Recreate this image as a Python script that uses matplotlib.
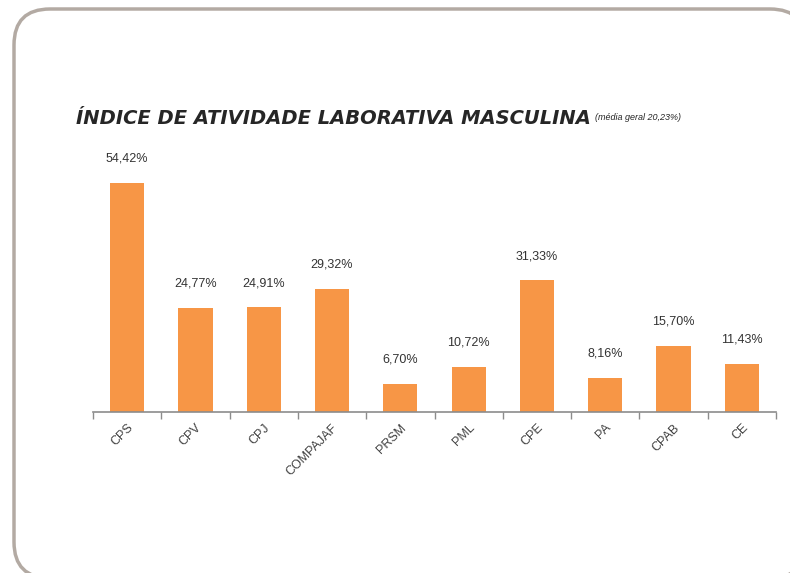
import matplotlib
matplotlib.use("Agg")
import matplotlib.pyplot as plt
from matplotlib.patches import FancyBboxPatch
from matplotlib.transforms import IdentityTransform

# dados
categorias = ["CPS", "CPV", "CPJ", "COMPAJAF", "PRSM", "PML", "CPE", "PA", "CPAB", "CE"]
valores = [54.42, 24.77, 24.91, 29.32, 6.70, 10.72, 31.33, 8.16, 15.70, 11.43]
rotulos = ["54,42%", "24,77%", "24,91%", "29,32%", "6,70%", "10,72%", "31,33%", "8,16%", "15,70%", "11,43%"]
titulo = "ÍNDICE DE ATIVIDADE LABORATIVA MASCULINA"
subtitulo = "(média geral 20,23%)"

plt.rcParams["font.family"] = ["Liberation Sans", "DejaVu Sans"]

fig = plt.figure(figsize=(7.9, 5.73), dpi=100)

# moldura arredondada (em pixels); face branca para evitar o recorte das curvas
moldura = FancyBboxPatch((14, -5), 792, 569,
                         boxstyle="round,pad=0,rounding_size=36",
                         transform=IdentityTransform(), facecolor="white",
                         edgecolor="#B3AAA3", lw=2.5, zorder=-1)
fig.patches.append(moldura)

ax = fig.add_axes([93 / 790, 1 - 412 / 573, 683 / 790, 252.6 / 573])
ax.patch.set_visible(False)

x = range(len(categorias))
ax.bar(x, valores, width=0.5, color="#F79646", zorder=2)

for i, v in enumerate(valores):
    ax.annotate(rotulos[i], (i, v), xytext=(0, 13), textcoords="offset points",
                ha="center", va="bottom", fontsize=9, color="#333333")

ax.set_xlim(-0.5, len(categorias) - 0.5)
ax.set_ylim(0, 60)
ax.set_yticks([])
for s in ["top", "right", "left"]:
    ax.spines[s].set_visible(False)
ax.spines["bottom"].set_color("#8C8C8C")
ax.spines["bottom"].set_linewidth(1.2)

ax.set_xticks(list(x))
ax.set_xticklabels(categorias, rotation=45, ha="right", rotation_mode="anchor",
                   fontsize=9, color="#404040")
ax.tick_params(axis="x", which="major", length=0, pad=7)
ax.set_xticks([i + 0.5 for i in range(-1, len(categorias))], minor=True)
ax.tick_params(axis="x", which="minor", length=5, color="#8C8C8C", width=1)

t1 = fig.text(76 / 790, 1 - 118 / 573, titulo, fontsize=14, fontweight="bold",
              fontstyle="italic", color="#262626", va="center", family="DejaVu Sans")
fig.canvas.draw()
bb = t1.get_window_extent()
fig.text((bb.x1 + 4) / 790, 1 - 118 / 573, subtitulo, fontsize=6.5,
         fontstyle="italic", color="#262626", va="center")

fig.savefig("out.png", dpi=100)
